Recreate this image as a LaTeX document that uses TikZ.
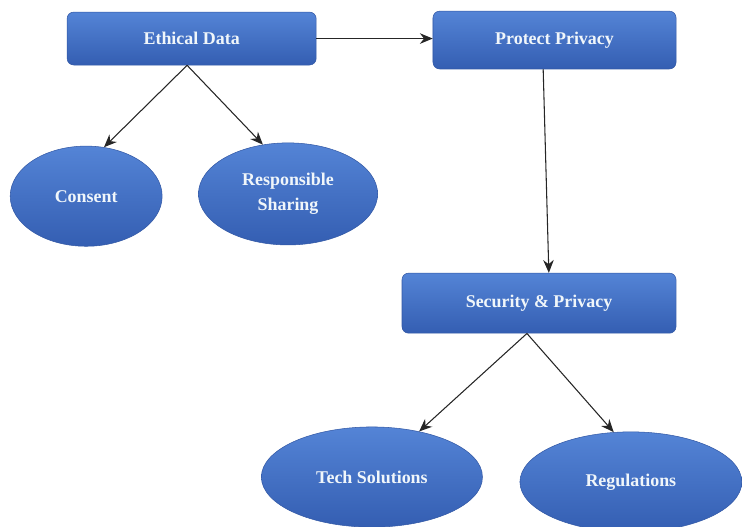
\documentclass[tikz,border=0pt]{standalone}
\usepackage{fontspec}
\setmainfont{Liberation Serif}
\usepackage{tikz}
\usetikzlibrary{arrows.meta,positioning,shapes.geometric}
\definecolor{boxtop}{RGB}{84,132,214}
\definecolor{boxbot}{RGB}{52,94,178}
\definecolor{boxedge}{RGB}{50,88,165}
\definecolor{txtcol}{RGB}{240,246,250}
\tikzset{
  boxnd/.style={rectangle, rounded corners=5pt, top color=boxtop, bottom color=boxbot,
    draw=boxedge, line width=0.4pt, text=txtcol, font=\bfseries\fontsize{13.5}{19}\selectfont,
    inner sep=0pt, align=center},
  ovalnd/.style={ellipse, top color=boxtop, bottom color=boxbot,
    draw=boxedge, line width=0.4pt, text=txtcol, font=\bfseries\fontsize{13.5}{19}\selectfont,
    inner sep=0pt, align=center},
  link/.style={-{Stealth[length=3.4mm,width=2.8mm]}, line width=0.8pt, black!85},
}
\begin{document}
\begin{tikzpicture}
    \useasboundingbox (0,0) rectangle (19.63,-13.94);
    % top row
    \node[boxnd, minimum width=6.59cm, minimum height=1.40cm] (ethical) at (5.07,-1.02) {Ethical Data};
    \node[boxnd, minimum width=6.43cm, minimum height=1.53cm] (protect) at (14.67,-1.06) {Protect Privacy};
    % ovals under ethical data
    \node[ovalnd, minimum width=4.02cm, minimum height=2.65cm] (consent) at (2.28,-5.19) {Consent};
    \node[ovalnd, minimum width=4.74cm, minimum height=2.70cm] (sharing) at (7.62,-5.13) {Responsible\\Sharing};
    % lower part
    \node[boxnd, minimum width=7.25cm, minimum height=1.59cm] (security) at (14.26,-8.02) {Security \& Privacy};
    \node[ovalnd, minimum width=5.85cm, minimum height=2.65cm] (tech) at (9.84,-12.62) {Tech Solutions};
    \node[ovalnd, minimum width=5.87cm, minimum height=2.65cm] (regul) at (16.69,-12.75) {Regulations};
    % connectors
    \draw[link] (ethical.east) -- (ethical.east -| protect.west);
    \draw[link] ([xshift=-0.12cm]ethical.south) -- (consent.70);
    \draw[link] ([xshift=-0.12cm]ethical.south) -- (sharing.117);
    \draw[link] ([xshift=-0.30cm]protect.south) -- ([xshift=0.26cm]security.north);
    \draw[link] ([xshift=-0.32cm]security.south) -- (tech.44);
    \draw[link] ([xshift=-0.32cm]security.south) -- (regul.109);
  \end{tikzpicture}
\end{document}
